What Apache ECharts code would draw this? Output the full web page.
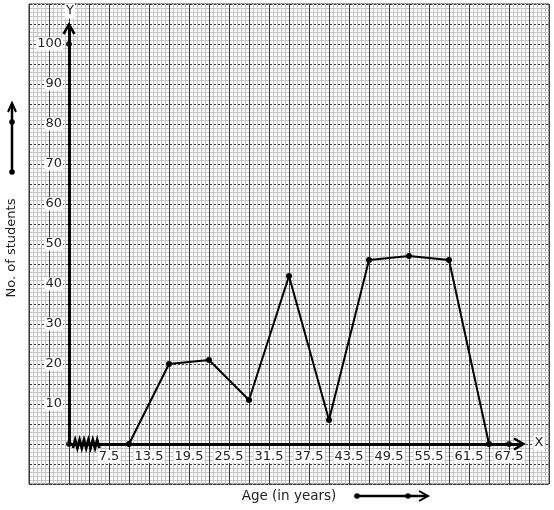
<!DOCTYPE html>
<html><head><meta charset="utf-8">
<script src="https://cdn.jsdelivr.net/npm/echarts@6/dist/echarts.min.js"></script>
<style>html,body{margin:0;padding:0;background:#fff}#c{width:554px;height:510px}</style>
</head><body><div id="c"></div>
<script>
// ---- data ----
const classMarks = [10.5, 16.5, 22.5, 28.5, 34.5, 40.5, 46.5, 52.5, 58.5, 64.5];
const students   = [0, 20, 21, 11, 42, 6, 46, 47, 46, 0];
const xTickLabels = [7.5, 13.5, 19.5, 25.5, 31.5, 37.5, 43.5, 49.5, 55.5, 61.5, 67.5];
const yTickLabels = [10, 20, 30, 40, 50, 60, 70, 80, 90, 100];
const axisDotsX = [1.5, 1.5, 67.5];
const axisDotsY = [0, 100, 0];
const xOrigin = 1.5;

const FONT = 'DejaVu Sans';

const chart = echarts.init(document.getElementById('c'), null, {renderer: 'canvas'});

const option = {
  animation: false,
  backgroundColor: '#fff',
  grid: [
    {left: 29, top: 4, width: 520, height: 480, show: true, borderColor: '#333', borderWidth: 1, backgroundColor: '#fff'},
    {left: 69, top: 26, width: 452, height: 418}
  ],
  xAxis: [
    {gridIndex: 0, type: 'value', min: 0, max: 130, interval: 5,
     axisLine: {show: false}, axisTick: {show: false}, axisLabel: {show: false},
     splitLine: {show: true, lineStyle: {color: '#3a3a3a', width: 1}},
     minorTick: {show: false, splitNumber: 5},
     minorSplitLine: {show: true, lineStyle: {color: '#c4c4c4', width: 1}}},
    {gridIndex: 1, type: 'value', min: xOrigin, max: 69.3,
     axisLine: {show: true, onZero: false, lineStyle: {color: '#000', width: 3}},
     axisTick: {show: false}, splitLine: {show: false},
     axisLabel: {show: true, customValues: xTickLabels, color: '#222', fontFamily: FONT, fontSize: 13,
       margin: 6, backgroundColor: '#fff', padding: [0, 1, 0, 1]}}
  ],
  yAxis: [
    {gridIndex: 0, type: 'value', min: 0, max: 120, interval: 5,
     axisLine: {show: false}, axisTick: {show: false}, axisLabel: {show: false},
     splitLine: {show: true, lineStyle: {color: '#3a3a3a', width: 1, type: [3, 1]}},
     minorTick: {show: false, splitNumber: 5},
     minorSplitLine: {show: true, lineStyle: {color: '#c4c4c4', width: 1}}},
    {gridIndex: 1, type: 'value', min: 0, max: 104.5,
     axisLine: {show: true, onZero: false, lineStyle: {color: '#000', width: 3}},
     axisTick: {show: false}, splitLine: {show: false},
     axisLabel: {show: true, customValues: yTickLabels, color: '#222', fontFamily: FONT, fontSize: 13,
       margin: 6, backgroundColor: '#fff', padding: [0, 1, 0, 1]}}
  ],
  series: [
    {type: 'line', xAxisIndex: 1, yAxisIndex: 1, clip: false,
     data: classMarks.map((x, i) => [x, students[i]]),
     symbol: 'circle', symbolSize: 6, showSymbol: true,
     itemStyle: {color: '#000'}, lineStyle: {color: '#000', width: 2}, z: 5},
    {type: 'scatter', xAxisIndex: 1, yAxisIndex: 1, clip: false,
     data: axisDotsX.map((x, i) => [x, axisDotsY[i]]),
     symbol: 'circle', symbolSize: 6, itemStyle: {color: '#000'}, z: 6}
  ]
};
chart.setOption(option);

// decorations
const o = chart.convertToPixel({xAxisIndex: 1, yAxisIndex: 1}, [xOrigin, 0]);
const zz = [];
for (let k = 0; k <= 12; k++) zz.push([o[0] + 4 + k * 2.2, o[1] + (k % 2 === 0 ? 4 : -4)]);

chart.setOption({
  graphic: [
    {type: 'polyline', shape: {points: zz}, style: {stroke: '#000', lineWidth: 2.8, fill: null}, z: 100},
    // axis chevrons
    {type: 'polyline', shape: {points: [[514, 438.5], [523.5, 444], [514, 449.5]]}, style: {stroke: '#000', lineWidth: 2.5, fill: null}, z: 100},
    {type: 'polyline', shape: {points: [[63.5, 34], [69, 24.5], [74.5, 34]]}, style: {stroke: '#000', lineWidth: 2.5, fill: null}, z: 100},
    {type: 'text', x: 70, y: 11, style: {text: 'Y', font: '13px "DejaVu Sans"', fill: '#222', align: 'center', verticalAlign: 'middle', backgroundColor: '#fff', padding: [1, 1]}, z: 100},
    {type: 'text', x: 539, y: 443, style: {text: 'X', font: '13px "DejaVu Sans"', fill: '#222', align: 'center', verticalAlign: 'middle', backgroundColor: '#fff', padding: [1, 1]}, z: 100},
    {type: 'text', x: 289, y: 496, style: {text: 'Age (in years)', font: '13.5px "DejaVu Sans"', fill: '#222', align: 'center', verticalAlign: 'middle'}, z: 100},
    {type: 'text', x: 12, y: 248, rotation: Math.PI / 2, style: {text: 'No. of students', font: '13px "DejaVu Sans"', fill: '#222', align: 'center', verticalAlign: 'middle'}, z: 100},
    // left arrow
    {type: 'line', shape: {x1: 12, y1: 172, x2: 12, y2: 104}, style: {stroke: '#000', lineWidth: 2.5}, z: 100},
    {type: 'polyline', shape: {points: [[8, 112], [12, 103], [16, 112]]}, style: {stroke: '#000', lineWidth: 2, fill: null}, z: 100},
    {type: 'circle', shape: {cx: 12, cy: 122, r: 2.8}, style: {fill: '#000'}, z: 100},
    {type: 'circle', shape: {cx: 12, cy: 172, r: 2.8}, style: {fill: '#000'}, z: 100},
    // bottom arrow
    {type: 'line', shape: {x1: 357, y1: 496, x2: 427, y2: 496}, style: {stroke: '#000', lineWidth: 2.5}, z: 100},
    {type: 'polyline', shape: {points: [[419, 491], [428, 496], [419, 501]]}, style: {stroke: '#000', lineWidth: 2, fill: null}, z: 100},
    {type: 'circle', shape: {cx: 357, cy: 496, r: 2.8}, style: {fill: '#000'}, z: 100},
    {type: 'circle', shape: {cx: 408, cy: 496, r: 2.8}, style: {fill: '#000'}, z: 100}
  ]
});
</script>
</body></html>
